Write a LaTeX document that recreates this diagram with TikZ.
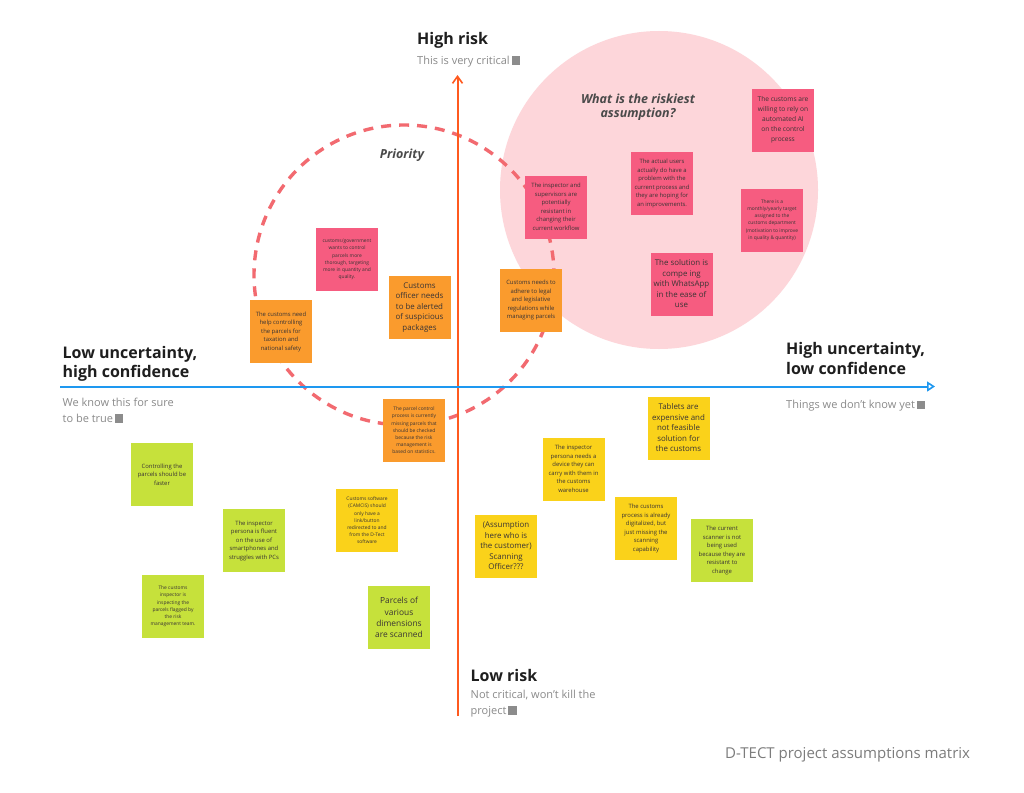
\documentclass[tikz,border=0pt]{standalone}
\usepackage{fontspec}
\setmainfont{Open Sans}
\usetikzlibrary{arrows.meta}
\definecolor{notepink}{HTML}{F65C80}
\definecolor{noteorange}{HTML}{FA9B2D}
\definecolor{noteyellow}{HTML}{FAD21A}
\definecolor{notegreen}{HTML}{C6E13B}
\definecolor{notetext}{HTML}{3A3434}
\definecolor{bigpink}{HTML}{FDD6DA}
\definecolor{prioline}{HTML}{F26A70}
\definecolor{riskaxis}{HTML}{FF5A1F}
\definecolor{uncaxis}{HTML}{1E98F0}
\definecolor{labelgrey}{HTML}{8A8A8A}
\definecolor{squaregrey}{HTML}{8C8C8C}
\definecolor{titledark}{HTML}{1E1E1E}
\definecolor{handdark}{HTML}{4A4A4A}
\newcommand{\gsq}{\,\textcolor{squaregrey}{\rule[-0.5pt]{8.5pt}{8.5pt}}}
\tikzset{
  note/.style={minimum width=62pt, minimum height=63pt, inner sep=1pt, align=center, text=notetext},
  pinknote/.style={note, fill=notepink},
  orangenote/.style={note, fill=noteorange},
  yellownote/.style={note, fill=noteyellow},
  greennote/.style={note, fill=notegreen},
  fa/.style={font=\fontsize{4.9}{7.2}\selectfont},
  fb/.style={font=\fontsize{5.9}{8.5}\selectfont},
  fc/.style={font=\fontsize{6.6}{10}\selectfont},
  fd/.style={font=\fontsize{7.9}{10.5}\selectfont},
  fe/.style={font=\fontsize{8.4}{11.3}\selectfont},
  axlabel/.style={anchor=base west, inner sep=0pt, text=titledark, font=\bfseries\fontsize{16}{19.5}\selectfont},
  axsub/.style={anchor=base west, inner sep=0pt, text=labelgrey, font=\fontsize{11}{15.8}\selectfont},
  hand/.style={inner sep=0pt, align=center, text=handdark, font=\itshape\bfseries\fontsize{12.5}{14}\selectfont},
}
\begin{document}
\begin{tikzpicture}[x=1pt,y=-1pt]
\fill[white] (0,0) rectangle (1024,792);
\useasboundingbox (0,0) rectangle (1024,792);

% riskiest-assumption zone
\fill[bigpink] (659,190) circle (159);
\node[hand] (riskq) at (638,107) {What is the riskiest\\assumption?};

% priority dashed circle
\draw[prioline, line width=3.4pt, dash pattern=on 10pt off 8pt] (404,275) circle (150);
\node[hand] (prio) at (402,155) {Priority};

% axes
\coordinate (vbot) at (457.5,716);
\coordinate (vtop) at (457.5,75);
\coordinate (hleft) at (60,386.5);
\coordinate (hright) at (935,386.5);
\draw[riskaxis, line width=2pt, -{Straight Barb[length=7pt,width=10pt,line width=1.6pt]}] (vbot) -- (vtop);
\draw[uncaxis, line width=2pt, -{Triangle[open,length=8pt,width=10pt,line width=1.6pt]}] (hleft) -- (hright);

% axis labels
\node[axlabel] (hirisk) at (417,45) {High risk};
\node[axsub] (hirisksub) at (417,64) {This is very critical\gsq};
\node[axlabel] (lowunc1) at (62.5,358) {Low uncertainty,};
\node[axlabel] (lowunc2) at (62.5,377.5) {high confidence};
\node[axsub] (lowuncsub1) at (62.5,406) {We know this for sure};
\node[axsub] (lowuncsub2) at (62.5,422) {to be true\gsq};
\node[axlabel] (hiunc1) at (786,354) {High uncertainty,};
\node[axlabel] (hiunc2) at (786,374) {low confidence};
\node[axsub] (hiuncsub) at (786,408.5) {Things we don't know yet\gsq};
\node[axlabel] (lowrisk) at (470.5,681) {Low risk};
\node[axsub] (lowrisksub1) at (470.5,698) {Not critical, won't kill the};
\node[axsub] (lowrisksub2) at (470.5,714) {project\gsq};
\node[anchor=base west, inner sep=0pt, text=labelgrey!90!black, font=\fontsize{15}{17}\selectfont] (caption) at (725,758) {D-TECT project assumptions matrix};

% pink notes
\node[pinknote, fc] (n1) at (783,120) {The customs are\\willing to rely on\\automated AI\\on the control\\process};
\node[pinknote, fb] (n2) at (662,183.5) {The actual users\\actually do have a\\problem with the\\current process and\\they are hoping for\\an improvements.};
\node[pinknote, fb] (n3) at (556,207) {The inspector and\\supervisors are\\potentially\\resistant in\\changing their\\current workflow};
\node[pinknote, fa] (n4) at (772,220) {There is a\\monthly/yearly target\\assigned to the\\customs department\\(motivation to improve\\in quality \& quantity)};
\node[pinknote, fd] (n5) at (681.5,284) {The solution is\\compe\ ing\\with WhatsApp\\in the ease of\\use};
\node[pinknote, fa] (n6) at (347,259.5) {customs/government\\wants to control\\parcels more\\thorough, targeting\\more in quantity and\\quality.};

% orange notes
\node[orangenote, fb] (n7) at (281,331.5) {The customs need\\help controlling\\the parcels for\\taxation and\\national safety};
\node[orangenote, fd] (n8) at (419.5,307.5) {Customs\\officer needs\\to be alerted\\of suspicious\\packages};
\node[orangenote, fb] (n9) at (531,300) {Customs needs to\\adhere to legal\\and legislative\\regulations while\\managing parcels};
\node[orangenote, fa] (n10) at (414,430.5) {The parcel control\\process is currently\\missing parcels that\\should be checked\\because the risk\\management is\\based on statistics.};

% yellow notes
\node[yellownote, fd] (n11) at (678.5,428) {Tablets are\\expensive and\\not feasible\\solution for\\the customs};
\node[yellownote, fb] (n12) at (573.5,469) {The inspector\\persona needs a\\device they can\\carry with them in\\the customs\\warehouse};
\node[yellownote, fa] (n13) at (367,520.5) {Customs software\\(CAMCIS) should\\only have a\\link/button\\redirected to and\\from the D-Tect\\software};
\node[yellownote, fd] (n14) at (506,546) {(Assumption\\here who is\\the customer)\\Scanning\\Officer???};
\node[yellownote, fb] (n15) at (646,528.5) {The customs\\process is already\\digitalized, but\\just missing the\\scanning\\capability};

% green notes
\node[greennote, fb] (n16) at (162,474.5) {Controlling the\\parcels should be\\faster};
\node[greennote, fb] (n17) at (254,540.5) {The inspector\\persona is fluent\\on the use of\\smartphones and\\struggles with PCs};
\node[greennote, fa] (n18) at (173,606.5) {The customs\\inspector is\\inspecting the\\parcels flagged by\\the risk\\management team.};
\node[greennote, fe] (n19) at (399,617.5) {Parcels of\\various\\dimensions\\are scanned};
\node[greennote, fb] (n20) at (722,550.5) {The current\\scanner is not\\being used\\because they are\\resistant to\\change};
\end{tikzpicture}
\end{document}
